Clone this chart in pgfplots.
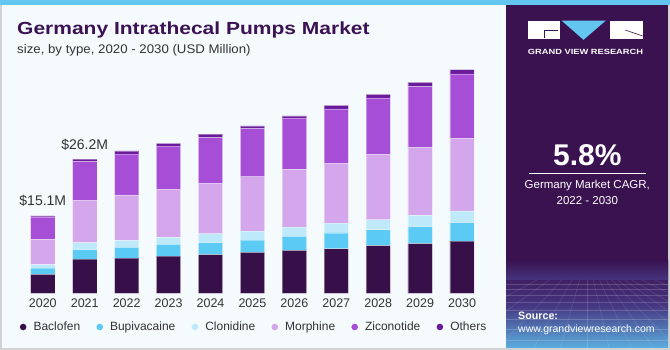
\documentclass[border=0pt]{standalone}
\usepackage{pgfplots}
\pgfplotsset{compat=1.18}
\usepackage{pgfplotstable}
\usepackage{graphicx}
\usepackage{fontspec}
\setmainfont{Liberation Sans}
\definecolor{bgc}{HTML}{F5FAFD}
\definecolor{darkp}{HTML}{3A1250}
\definecolor{titlec}{HTML}{3B1253}
\definecolor{cbac}{HTML}{37104A}
\definecolor{cbup}{HTML}{5BCAF5}
\definecolor{cclo}{HTML}{BDE9FA}
\definecolor{cmor}{HTML}{D4A7EC}
\definecolor{czic}{HTML}{A64FD6}
\definecolor{coth}{HTML}{6A1B9A}
\definecolor{topblue}{HTML}{62C6F0}
\definecolor{gvblue}{HTML}{5AAEE0}
\definecolor{midp}{HTML}{46357F}
\definecolor{txt}{HTML}{333333}
\pgfplotstableread{
x bac bup clo mor zic oth
0 3.7 1.2 0.7 4.95 4.35 0.2
1 6.65 1.9 1.37 8.3 7.48 0.5
2 6.85 2.1 1.37 8.9 7.98 0.6
3 7.24 2.3 1.37 9.45 8.4 0.52
4 7.57 2.35 1.7 9.9 8.9 0.65
5 8.0 2.4 1.76 10.6 9.4 0.52
6 8.4 2.7 1.8 11.3 10.0 0.45
7 8.7 3.1 1.9 11.7 10.6 0.7
8 9.3 3.1 1.96 12.7 11.1 0.7
9 9.7 3.3 2.2 13.25 11.9 0.85
10 10.2 3.6 2.3 14.1 12.65 0.85
}\data
\begin{document}
\begin{tikzpicture}[x=1pt,y=1pt]
% frame and backgrounds
\fill[gray!35] (0,0) rectangle (670,350);
\fill[bgc] (2,2) rectangle (506,345);
\fill[darkp] (506,2) rectangle (668,345);
\shade[top color=darkp, bottom color=gvblue, middle color=midp] (506,2) rectangle (668,88);
\fill[darkp] (506,70) rectangle (668,88);
\shade[top color=darkp, bottom color=midp] (506,70) rectangle (668,90);
\begin{scope}
\clip (506,2) rectangle (668,70);
\foreach \yy in {66,61,55,48,40,31,21,10} {\draw[white, opacity=0.18, line width=0.4pt] (506,\yy) -- (668,\yy);}
\foreach \xx in {-200,-150,-100,-60,-30,0,25,50,75,100,125,150,180,220,270,330} {\draw[white, opacity=0.15, line width=0.4pt] (587+\xx*0.25,70) -- (587+\xx,-10);}
\end{scope}
\fill[topblue] (0,345) rectangle (670,350);
% title
\node[anchor=base west, inner sep=0pt, font=\fontsize{17.5}{20}\selectfont\bfseries, text=titlec] at (17,315) {\scalebox{1.2}[1]{Germany Intrathecal Pumps Market}};
\node[anchor=base west, inner sep=0pt, font=\fontsize{12.5}{15}\selectfont, text=txt] at (17,296) {\scalebox{1.06}[1]{size, by type, 2020 - 2030 (USD Million)}};
% logo
\fill[white] (528.3,310.7) rectangle (560,329.3);
\draw[darkp, line width=0.6pt] (558,319.3) -- (544,319.3) -- (544,311.5);
\fill[topblue] (561.7,329.3) -- (605.7,329.3) -- (583.5,310.2) -- cycle;
\fill[white] (610,310.7) rectangle (642.7,329.3);
\draw[darkp, line width=0.6pt] (625,320) -- (642.7,314);
\node[inner sep=0pt, font=\fontsize{7.5}{9}\selectfont\bfseries, text=white] at (585.5,298.3) {\scalebox{1.24}[1]{GRAND VIEW RESEARCH}};
\node[anchor=base, inner sep=0pt, font=\fontsize{30}{34}\selectfont\bfseries, text=white] at (587.3,184.3) {5.8\%};
\draw[white, line width=0.8pt] (529,176.7) -- (645.7,176.7);
\node[inner sep=0pt, font=\fontsize{11.5}{14}\selectfont, text=white] at (587.3,164.3) {Germany Market CAGR,};
\node[inner sep=0pt, font=\fontsize{11.5}{14}\selectfont, text=white] at (587.3,149) {2022 - 2030};
\node[anchor=west, inner sep=0pt, font=\fontsize{10.7}{13}\selectfont\bfseries, text=white] at (518,34.3) {Source:};
\node[anchor=west, inner sep=0pt, font=\fontsize{10.5}{13}\selectfont, text=white] at (518,20.7) {www.grandviewresearch.com};
% chart
\begin{axis}[
  at={(42.8pt,56.7pt)}, anchor=origin, scale only axis,
  width=461.2pt, height=230.4pt,
  xmin=-0.5, xmax=10.5, ymin=0, ymax=45,
  ybar stacked, bar width=24.3pt,
  axis line style={draw=none}, major tick length=0pt,
  ytick=\empty,
  xtick={0,1,2,3,4,5,6,7,8,9,10},
  xticklabels={2020,2021,2022,2023,2024,2025,2026,2027,2028,2029,2030},
  xticklabel style={anchor=center, yshift=-10pt, font=\fontsize{12.5}{15}\selectfont, text=txt},
  clip=false,
  every axis plot/.append style={draw=white, draw opacity=0.35, line width=0.7pt},
  legend image code/.code={\fill[#1, draw=none] (0pt,0pt) circle (3.3pt); \path (8pt,0pt);},
  legend style={at={(axis description cs:-0.0043,-0.1463)}, anchor=west, draw=none, fill=none,
    inner sep=0pt, outer sep=0pt, legend columns=6,
    font=\fontsize{12}{14}\selectfont, text=txt,
    /tikz/every even column/.append style={column sep=14.2pt}},
]
\addplot[fill=cbac] table[x=x,y=bac]{\data};
\addplot[fill=cbup] table[x=x,y=bup]{\data};
\addplot[fill=cclo] table[x=x,y=clo]{\data};
\addplot[fill=cmor] table[x=x,y=mor]{\data};
\addplot[fill=czic] table[x=x,y=zic]{\data};
\addplot[fill=coth] table[x=x,y=oth]{\data};
\legend{Baclofen,Bupivacaine,Clonidine,Morphine,Ziconotide,Others}
\node[font=\fontsize{14}{16}\selectfont, text=txt, inner sep=0pt] at (axis cs:0,15.1) [yshift=14.7pt] {\$15.1M};
\node[font=\fontsize{14}{16}\selectfont, text=txt, inner sep=0pt] at (axis cs:1,26.2) [yshift=14pt] {\$26.2M};
\end{axis}
\end{tikzpicture}
\end{document}
